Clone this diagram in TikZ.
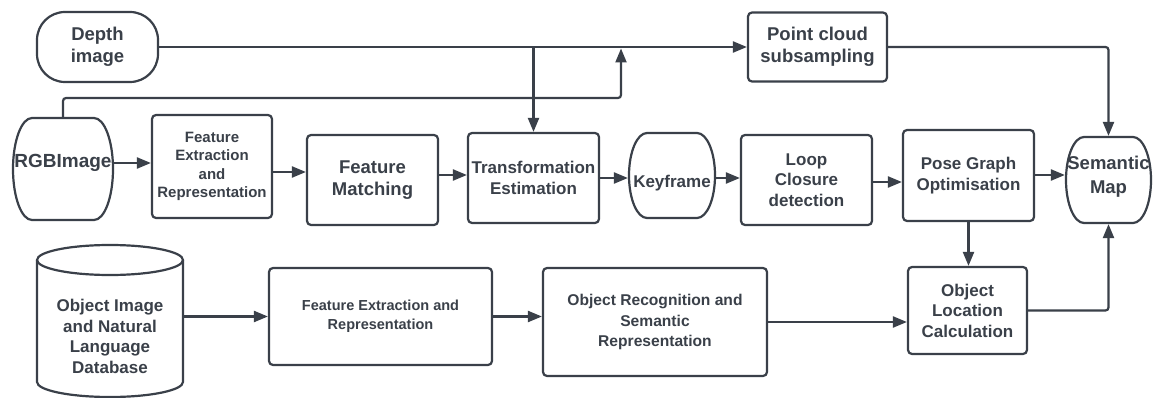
\documentclass[tikz,border=0pt]{standalone}
\usepackage{fontspec}
\setmainfont{Liberation Sans}
\usetikzlibrary{arrows.meta}
\definecolor{ink}{RGB}{58,64,73}

% Outline of a block with flat top/bottom and bulging sides:
% #1,#2 = left, top; #3,#4 = right, bottom; #5 = bulge depth
\newcommand\drawbarrel[5]{%
  \draw[shape line] ({#1+#5},#2) -- ({#3-#5},#2)
    .. controls ({#3-0.4477*#5},#2) and (#3,{0.5*(#2+#4)-0.2762*(#4-#2)}) .. (#3,{0.5*(#2+#4)})
    .. controls (#3,{0.5*(#2+#4)+0.2762*(#4-#2)}) and ({#3-0.4477*#5},#4) .. ({#3-#5},#4)
    -- ({#1+#5},#4)
    .. controls ({#1+0.4477*#5},#4) and (#1,{0.5*(#2+#4)+0.2762*(#4-#2)}) .. (#1,{0.5*(#2+#4)})
    .. controls (#1,{0.5*(#2+#4)-0.2762*(#4-#2)}) and ({#1+0.4477*#5},#2) .. cycle;}

\begin{document}
\begin{tikzpicture}[x=1pt,y=-1pt,
  shape line/.style={draw=ink, line width=2.2pt},
  box/.style={shape line, rectangle, rounded corners=4pt, inner sep=0pt, align=center, text=ink},
  hull/.style={rectangle, inner sep=0pt, outer sep=1.1pt},
  caption/.style={align=center, text=ink, inner sep=0pt},
  arr/.style={draw=ink, line width=2.2pt, -{Triangle[length=14pt,width=11pt]}},
  link/.style={rounded corners=3pt},
  fbig/.style={font=\bfseries\fontsize{18.5pt}{22pt}\selectfont},
  fmid/.style={font=\bfseries\fontsize{17pt}{20.5pt}\selectfont},
  fsmall/.style={font=\bfseries\fontsize{15pt}{18.5pt}\selectfont}
]
\fill[white] (0,0) rectangle (1164,398);
\useasboundingbox (0,0) rectangle (1164,398);

% ---- top row: sensor inputs and point cloud ----
\node[box, fbig, rounded corners=28pt, minimum width=121pt, minimum height=70pt] (depth) at (97.5,47) {Depth\\image};
\node[box, fbig, minimum width=139pt, minimum height=69pt] (pc) at (817.5,47) {Point cloud\\subsampling};

% ---- middle row: visual odometry pipeline ----
\drawbarrel{13}{118}{113}{220}{19}
\node[hull, minimum width=100pt, minimum height=102pt] (rgb) at (63,169) {};
\node[caption, font=\bfseries\fontsize{19pt}{22pt}\selectfont] (rgbt) at (63,163) {RGBImage};

\node[box, fsmall, minimum width=120pt, minimum height=103pt] (fe1) at (212,166.5) {Feature\\Extraction\\and\\Representation};
\node[box, fbig, minimum width=131pt, minimum height=90pt] (fm) at (372.5,180) {Feature\\Matching};
\node[box, fmid, minimum width=131pt, minimum height=90pt] (te) at (533.5,178) {Transformation\\Estimation};

\drawbarrel{629}{133}{715}{218}{18}
\node[hull, minimum width=86pt, minimum height=85pt] (kf) at (672,175.5) {};
\node[caption, fmid] (kft) at (672,183) {Keyframe};

\node[box, fmid, minimum width=131pt, minimum height=90pt] (lc) at (806.5,180) {Loop\\Closure\\detection};
\node[box, fmid, minimum width=131pt, minimum height=91pt] (pg) at (968.5,175.5) {Pose Graph\\Optimisation};

\drawbarrel{1066}{137}{1151}{223}{18}
\node[hull, minimum width=85pt, minimum height=86pt] (sm) at (1108.5,180) {};
\node[caption, font=\bfseries\fontsize{18.5pt}{24pt}\selectfont] (smt) at (1108.5,177) {Semantic\\Map};

% ---- bottom row: object recognition pipeline ----
\draw[shape line] (110,260) ellipse [x radius=73pt, y radius=15pt];
\draw[shape line] (37,260) -- (37,382) arc [start angle=180, end angle=360, x radius=73pt, y radius=15pt] -- (183,260);
\node[hull, minimum width=146pt, minimum height=152pt] (db) at (110,321) {};
\node[caption, fmid] (dbt) at (110,336.5) {Object Image\\and Natural\\Language\\Database};

\node[box, font=\bfseries\fontsize{14.5pt}{18.7pt}\selectfont, minimum width=223pt, minimum height=97pt] (fe2) at (380.5,316.5) {Feature Extraction and\\Representation};
\node[box, font=\bfseries\fontsize{15.6pt}{20.5pt}\selectfont, minimum width=224pt, minimum height=108pt] (or) at (655,322) {Object Recognition and\\Semantic\\Representation};
\node[box, fmid, minimum width=119pt, minimum height=87pt] (ol) at (967.5,310.5) {Object\\Location\\Calculation};

% ---- connectors ----
\coordinate (rgbbend) at (621,98);
\coordinate (rgbin) at (621,48.5);

\draw[arr] (depth.east) -- (pc.west);
\draw[arr] (te.north |- depth.east) -- (te.north);
\draw[arr, link] (rgb.north) |- (rgbbend) -- (rgbin);

\draw[arr] (rgb.east |- 0,163) -- (fe1.west |- 0,163);
\draw[arr] (fe1.east |- 0,172) -- (fm.west |- 0,172);
\draw[arr] (fm.east |- 0,175) -- (te.west |- 0,175);
\draw[arr] (te.east |- 0,178) -- (kf.west |- 0,178);
\draw[arr] (kf.east |- 0,178) -- (lc.west |- 0,178);
\draw[arr] (lc.east |- 0,182) -- (pg.west |- 0,182);
\draw[arr] (pg.east |- 0,175) -- (sm.west |- 0,175);

\draw[arr, link] (pc.east) -| (sm.north);
\draw[arr] (pg.south) -- (pg.south |- ol.north);
\draw[arr, link] (ol.east) -| (sm.south);

\draw[arr] (fe2.west -| db.east) -- (fe2.west);
\draw[arr] (fe2.east) -- (fe2.east -| or.west);
\draw[arr] (or.east) -- (or.east -| ol.west);
\end{tikzpicture}
\end{document}
